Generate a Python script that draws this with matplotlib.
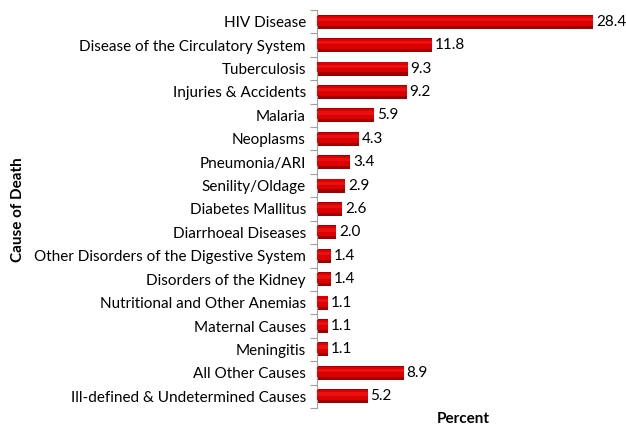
import matplotlib
matplotlib.use("Agg")
import matplotlib.pyplot as plt
import numpy as np

causes = ["HIV Disease", "Disease of the Circulatory System", "Tuberculosis",
          "Injuries & Accidents", "Malaria", "Neoplasms", "Pneumonia/ARI",
          "Senility/Oldage", "Diabetes Mallitus", "Diarrhoeal Diseases",
          "Other Disorders of the Digestive System", "Disorders of the Kidney",
          "Nutritional and Other Anemias", "Maternal Causes", "Meningitis",
          "All Other Causes", "Ill-defined & Undetermined Causes"]
percent = [28.4, 11.8, 9.3, 9.2, 5.9, 4.3, 3.4, 2.9, 2.6, 2.0, 1.4, 1.4,
           1.1, 1.1, 1.1, 8.9, 5.2]

plt.rcParams['font.family'] = ['Lato', 'DejaVu Sans']
fs = 11

fig = plt.figure(figsize=(6.26, 4.28), dpi=100)
ax = fig.add_axes([317/626, 1-408/428, 292/626, 398/428])

n = len(causes)
y = np.arange(n)
h = 0.6
# shadow / dark base
ax.barh(y, percent, height=h, color='#A00000', edgecolor='none', zorder=2)
# main face
ax.barh(y - 0.05, percent, height=h - 0.17, color='#DD0000', edgecolor='none', zorder=3)
# soft highlight
ax.barh(y - 0.1, percent, height=0.14, color='#E81010', edgecolor='none', zorder=4)

for yi, v in zip(y, percent):
    ax.text(v + 0.3, yi, f"{v:.1f}", va='center', ha='left', fontsize=fs, zorder=5)

ax.set_xlim(0, 30)
ax.set_ylim(n - 0.5, -0.5)
ax.set_yticks(y)
ax.set_yticklabels(causes, fontsize=fs)
ax.tick_params(axis='y', which='major', length=0, pad=8)
ax.set_yticks(np.arange(-0.5, n, 1), minor=True)
ax.tick_params(axis='y', which='minor', length=5, color='#A0A0A0', width=0.8)
ax.set_xticks([])
for s in ['top', 'right', 'bottom']:
    ax.spines[s].set_visible(False)
ax.spines['left'].set_color('#A0A0A0')
ax.spines['left'].set_linewidth(0.8)

fig.text(463/626, 1-419/428, "Percent", fontsize=fs, fontweight='bold',
         ha='center', va='center')
fig.text(18/626, 1-210/428, "Cause of Death", rotation=90, fontsize=fs,
         fontweight='bold', ha='center', va='center')

fig.savefig("out.png", dpi=100)
